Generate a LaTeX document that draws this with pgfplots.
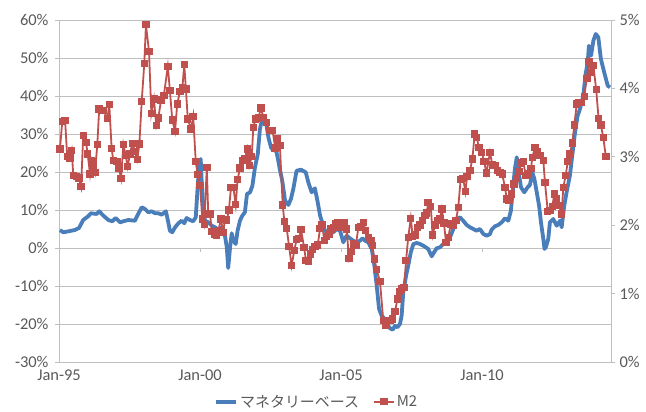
\documentclass[border=0pt]{standalone}
\usepackage{fontspec}
\setmainfont{Carlito}
\newfontfamily\cjk{Noto Sans CJK JP}
\usepackage{pgfplots}
\pgfplotsset{compat=1.18}
\definecolor{mbblue}{RGB}{74,126,187}
\definecolor{mtred}{RGB}{192,80,77}
\definecolor{gridc}{RGB}{191,191,191}
\definecolor{labc}{RGB}{89,89,89}
\begin{document}
\begin{tikzpicture}
\pgfplotsset{
  common/.style={scale only axis, width=552bp, height=342bp, at={(0,0)}, anchor=south west,
    xmin=0, xmax=234.9, clip=false,
    /pgf/number format/assume math mode=true,
    tick label style={font=\fontsize{16.5}{19}\selectfont, text=labc},
    tick align=outside, major tick length=4bp,
    every tick/.style={gridc, line width=0.9bp},
    axis line style={gridc, line width=0.9bp},
  },
}
\begin{axis}[common, ymin=-30, ymax=60,
  axis x line*=bottom, axis y line*=left,
  xtick={0,60,120,180}, xticklabels={Jan-95,Jan-00,Jan-05,Jan-10},
  x tick style={draw=none},
  ytick={-30,-20,...,60},
  yticklabel={\pgfmathprintnumber{\tick}\%},
  yticklabel style={xshift=-3bp},
  ymajorgrids, grid style={gridc, line width=0.9bp},
]
\draw[gridc, line width=0.9bp] (axis cs:60,0) -- (axis cs:60,-1.1);
\draw[gridc, line width=0.9bp] (axis cs:120,0) -- (axis cs:120,-1.1);
\draw[gridc, line width=0.9bp] (axis cs:180,0) -- (axis cs:180,-1.1);
\addplot[mbblue, line width=3.8bp, line join=round, no marks] table {
0.4 4.74
1.8 4.13
4.0 4.39
6.8 4.74
8.5 5.26
10.3 7.37
12.2 8.24
13.6 9.13
16.0 8.95
17.1 9.66
18.9 8.50
21.0 7.37
22.7 7.03
24.1 7.89
26.0 6.76
27.4 7.03
29.5 7.37
32.3 7.18
33.7 8.95
35.2 10.71
36.6 10.26
38.0 9.39
39.4 9.66
40.9 9.13
42.3 9.13
43.7 8.76
45.5 9.66
46.5 6.76
47.2 4.55
48.2 4.13
49.4 5.45
50.8 6.50
52.2 7.18
53.3 6.50
54.3 7.89
55.7 7.37
57.1 7.03
58.2 8.08
59.0 15.97
59.7 22.55
60.3 23.42
60.7 17.71
61.4 10.71
62.1 7.18
63.5 6.76
65.0 5.87
66.4 5.45
67.8 4.74
69.2 5.45
70.3 4.55
71.4 0.18
72.0 -5.26
72.8 0.18
73.5 3.87
74.2 1.92
75.2 1.05
76.0 4.55
77.0 7.18
78.0 8.50
79.1 9.39
80.0 14.21
81.3 14.66
82.3 16.39
83.4 21.24
84.6 24.74
85.5 31.32
86.3 33.50
87.1 34.80
88.0 33.50
89.1 29.13
90.2 26.50
91.2 25.60
92.3 26.05
93.3 22.97
94.0 20.60
95.0 17.71
96.2 12.45
97.6 11.32
98.7 12.90
99.7 15.53
101.1 20.34
103.0 20.60
105.0 19.92
106.1 17.29
107.5 14.66
108.9 15.71
110.1 12.03
111.1 8.50
112.0 6.76
113.2 4.55
114.6 3.95
116.7 4.13
118.2 5.00
119.6 4.55
121.0 1.50
122.4 3.24
123.8 2.55
125.2 1.92
126.7 1.50
128.1 1.92
129.1 2.55
130.2 1.92
131.6 1.50
133.1 -0.26
134.2 -4.66
135.2 -9.92
136.2 -16.05
137.3 -17.82
138.7 -18.68
139.4 -20.00
140.9 -21.13
142.0 -21.50
143.0 -20.45
144.0 -20.87
145.1 -20.00
145.8 -17.82
146.5 -11.66
147.7 -7.29
148.6 -4.66
149.7 -1.13
150.8 1.05
152.2 1.32
153.6 1.05
155.0 0.61
157.1 -0.26
158.6 -2.18
159.6 -1.13
160.7 -0.08
162.1 0.18
163.5 1.05
165.0 1.66
166.4 2.82
167.8 5.00
169.2 7.63
170.6 8.08
172.0 7.18
173.5 6.05
174.9 5.45
176.3 5.00
177.7 4.55
179.1 5.00
180.6 3.68
182.0 3.24
183.4 3.68
184.1 4.82
185.5 5.71
186.9 6.05
188.4 6.76
189.8 7.82
191.2 7.18
192.3 9.82
193.3 16.39
194.0 20.79
194.8 23.87
195.4 20.79
196.6 15.97
198.0 14.66
199.4 15.97
200.4 16.58
201.4 19.92
202.3 18.16
203.3 14.66
204.3 11.13
205.1 6.76
206.1 2.37
206.6 -0.26
207.2 0.26
208.2 2.37
208.9 6.76
210.3 7.63
211.8 5.87
213.2 7.18
213.9 5.45
215.0 11.13
216.0 14.66
217.4 19.03
218.4 24.29
219.6 30.45
220.7 34.82
221.7 36.58
223.1 40.08
224.1 45.79
225.0 48.87
225.5 53.24
226.4 50.61
227.4 54.55
228.4 56.32
229.5 55.45
230.6 49.74
232.0 46.24
233.5 42.71
234.5 42.29
};
\end{axis}
\begin{axis}[common, ymin=0, ymax=5,
  axis x line=none, axis y line*=right,
  ytick={0,...,5},
  yticklabel={\pgfmathprintnumber{\tick}\%},
  yticklabel style={xshift=1bp},
  legend style={at={(0.467,-0.116)}, anchor=center, draw=none, fill=none,
    font=\cjk\fontsize{15}{18}\selectfont, text=labc, legend columns=2,
    /tikz/every even column/.append style={column sep=12bp}},
  legend image code/.code={\draw[mark repeat=2,mark phase=2,#1] plot coordinates {(0bp,0bp) (10bp,0bp) (20bp,0bp)};},
]
\addlegendimage{mbblue, line width=3.8bp}
\addlegendentry{マネタリーベース}
\addplot[mtred, line width=1.8bp, mark=square*, mark size=2.8bp, mark options={solid}] table {
0.4 3.114
1.4 3.519
2.6 3.528
3.5 3.002
4.7 2.982
5.4 3.089
6.1 2.724
7.5 2.709
8.5 2.690
9.4 2.563
10.3 3.308
11.5 3.212
12.2 3.041
13.2 2.748
13.9 2.943
14.6 2.870
15.3 2.773
16.3 3.177
17.1 3.699
18.9 3.674
20.6 3.563
21.4 3.762
22.4 3.124
23.1 2.943
24.6 2.934
25.5 2.836
26.4 2.686
27.4 3.177
28.4 3.016
29.2 2.855
30.2 3.041
31.2 3.197
32.3 3.081
33.3 2.958
34.2 3.187
35.2 3.812
36.3 4.367
37.0 4.931
38.3 4.542
39.3 3.636
40.4 3.845
41.4 3.455
42.3 3.567
43.4 3.831
44.6 3.893
46.3 4.320
47.2 3.966
48.2 3.538
49.4 3.373
50.3 3.772
51.5 3.958
52.5 4.006
53.3 4.347
54.0 3.991
54.8 3.553
56.2 3.407
57.1 3.592
58.2 2.928
59.0 2.738
60.0 2.577
61.0 2.090
61.8 2.007
62.9 2.847
63.5 2.164
64.3 2.164
65.0 1.911
66.1 1.871
67.1 1.847
67.8 1.920
68.9 2.090
69.9 1.896
70.6 2.081
71.4 2.076
72.3 2.222
73.2 2.554
74.2 2.554
75.2 2.299
76.0 2.665
77.0 2.836
78.0 2.943
79.1 2.968
80.1 3.114
81.0 2.870
82.0 3.002
82.7 3.431
83.7 3.553
84.8 3.567
86.0 3.713
86.9 3.577
88.4 3.504
89.5 3.382
90.9 3.382
92.0 3.129
93.1 3.260
94.0 3.162
95.2 2.296
95.9 2.051
96.9 1.955
97.9 1.692
99.0 1.408
100.1 1.627
101.1 1.788
102.1 1.808
103.0 1.934
104.3 1.677
105.1 1.481
106.1 1.466
106.9 1.579
108.0 1.642
108.9 1.692
110.1 1.711
111.1 1.955
112.0 2.003
112.9 1.773
113.9 1.838
114.9 1.871
115.7 1.944
116.7 1.970
117.7 2.018
118.6 2.042
119.6 1.984
120.3 1.970
121.4 2.042
122.4 1.944
123.4 1.516
124.3 1.613
125.2 1.725
126.3 1.700
127.4 1.970
128.5 1.984
129.5 2.042
130.5 1.920
131.6 1.823
132.8 1.773
133.3 1.700
134.2 1.505
135.2 1.349
136.6 1.174
138.0 0.604
139.1 0.537
140.1 0.604
141.1 0.604
142.0 0.629
143.0 0.736
144.0 0.921
144.8 1.028
145.8 1.067
146.8 1.092
147.7 1.481
148.6 1.823
149.7 2.101
150.5 1.838
151.5 1.857
152.5 1.970
153.6 2.003
154.8 2.066
155.7 2.139
156.5 2.178
157.1 2.335
158.2 2.276
159.0 1.857
160.0 2.003
161.0 2.066
162.1 2.101
162.9 2.237
163.8 2.032
164.7 1.750
165.7 1.823
166.7 2.018
167.8 1.993
168.9 2.066
169.9 2.262
170.9 2.665
172.0 2.686
172.9 2.490
173.7 2.715
174.9 2.797
175.9 2.968
176.9 3.333
177.7 3.285
178.7 3.139
179.9 3.066
180.9 2.928
181.9 2.763
183.4 3.066
184.4 2.880
185.5 2.870
186.7 2.797
187.7 2.773
188.6 2.748
189.8 2.554
190.5 2.383
191.5 2.358
192.6 2.456
193.7 2.602
194.8 2.686
195.7 2.782
196.9 2.909
197.6 2.928
198.6 2.724
199.7 2.748
200.9 2.832
201.4 2.993
202.6 3.139
203.7 3.075
204.7 3.016
206.1 2.943
206.8 2.627
208.0 2.197
208.9 2.212
209.9 2.276
210.8 2.456
211.8 2.383
212.8 2.285
213.9 2.164
214.6 2.554
215.6 2.724
216.5 2.928
217.4 3.041
218.4 3.202
219.3 3.465
220.3 3.772
221.3 3.797
222.4 3.797
223.5 3.884
224.6 4.148
225.5 4.390
226.4 4.236
227.4 4.332
228.6 3.981
229.6 3.563
230.6 3.465
231.6 3.285
232.7 3.004
};
\addlegendentry{M2}
\end{axis}
\pgfresetboundingbox
\path[use as bounding box] (-59bp,-50bp) rectangle (587bp,362bp);
\end{tikzpicture}
\end{document}
